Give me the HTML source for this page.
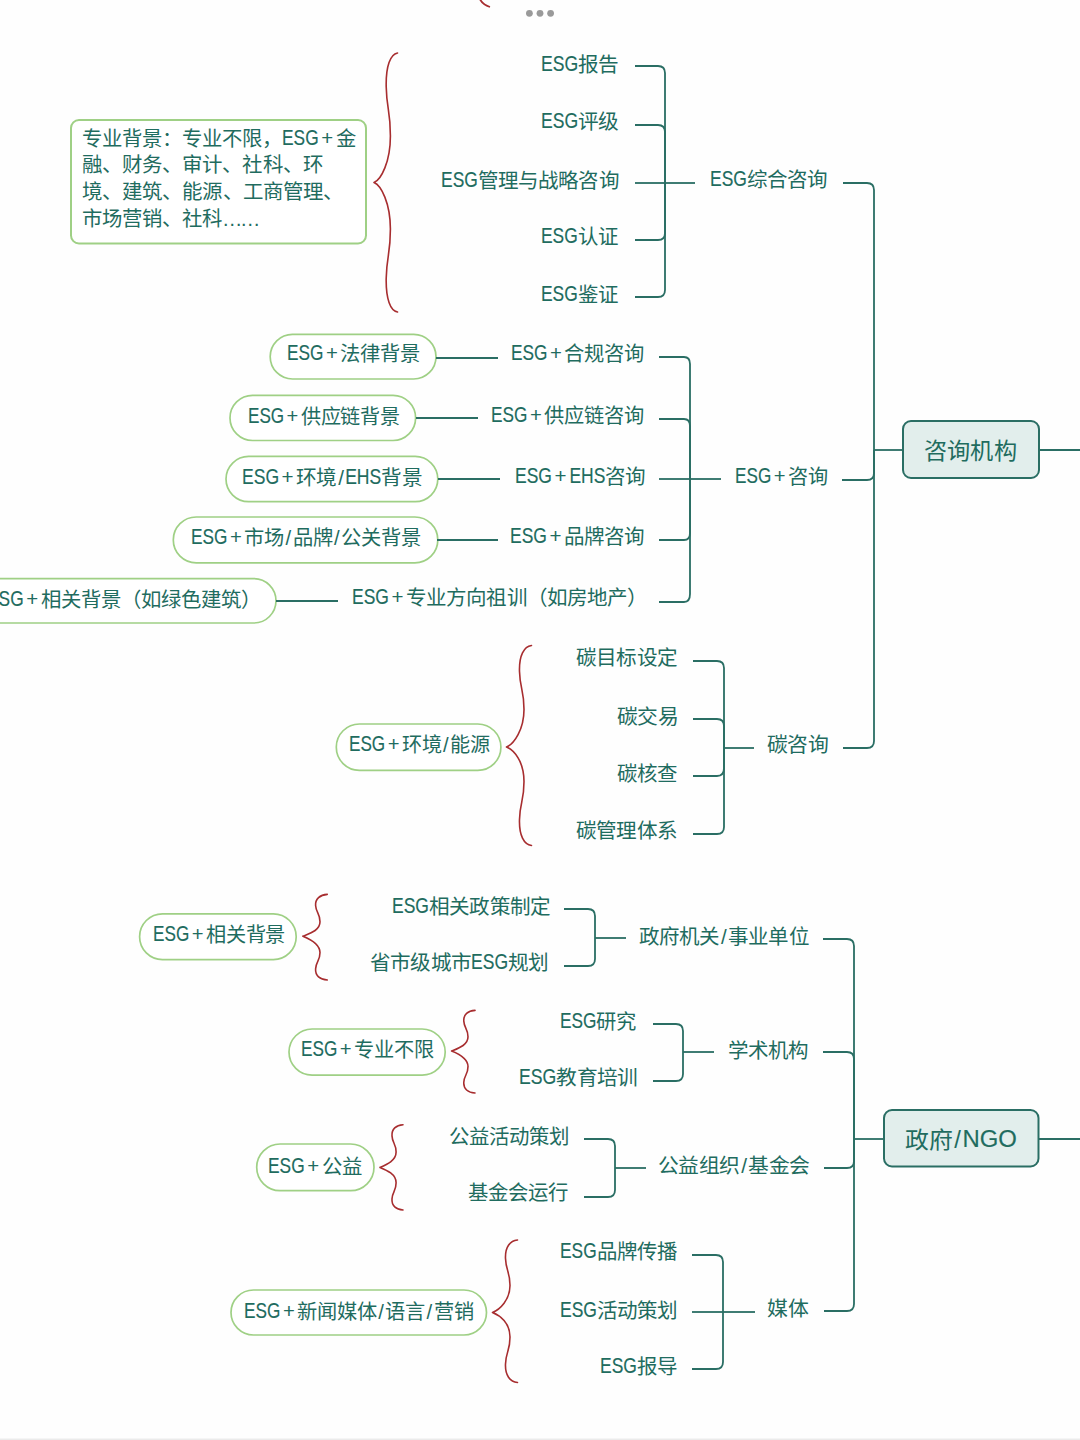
<!DOCTYPE html>
<html lang="zh-CN"><head><meta charset="utf-8"><style>
html,body{margin:0;padding:0;}
body{width:1080px;height:1440px;overflow:hidden;position:relative;background:#fefefe;font-family:"Liberation Sans",sans-serif;color:#1f6c5f;}
.t{position:absolute;white-space:nowrap;line-height:26px;height:26px;transform-origin:0 50%;}
.l{display:inline-block;transform-origin:0 50%;position:relative;top:-1px;-webkit-text-stroke:0.15px currentColor;}
.p{padding:0 2.5px;position:relative;top:-1px;}
.e{letter-spacing:-2.5px;}
.s{padding:0 1.5px;}
svg{position:absolute;left:0;top:0;}
</style></head><body>

<svg width="1080" height="1440" viewBox="0 0 1080 1440"><path d="M635 66H658Q665 66 665 73V183" fill="none" stroke="#2a6e64" stroke-width="1.8"/><path d="M635 125H658Q665 125 665 132V183" fill="none" stroke="#2a6e64" stroke-width="1.8"/><path d="M635 183H665" fill="none" stroke="#2a6e64" stroke-width="1.8"/><path d="M635 240H658Q665 240 665 233V183" fill="none" stroke="#2a6e64" stroke-width="1.8"/><path d="M635 297H658Q665 297 665 290V183" fill="none" stroke="#2a6e64" stroke-width="1.8"/><path d="M665 183H695" fill="none" stroke="#2a6e64" stroke-width="1.8"/><path d="M843 183H867Q874 183 874 190V450" fill="none" stroke="#2a6e64" stroke-width="1.8"/><rect x="270.2" y="334.3" width="165.8" height="44.7" rx="22.3" fill="#ffffff" stroke="#9fd085" stroke-width="1.7"/><rect x="230.0" y="395.3" width="185.6" height="45.2" rx="22.6" fill="#ffffff" stroke="#9fd085" stroke-width="1.7"/><rect x="226.0" y="456.4" width="211.8" height="45.3" rx="22.7" fill="#ffffff" stroke="#9fd085" stroke-width="1.7"/><rect x="173.3" y="517.0" width="264.5" height="45.8" rx="22.9" fill="#ffffff" stroke="#9fd085" stroke-width="1.7"/><rect x="-40.0" y="578.6" width="316.0" height="44.4" rx="22.2" fill="#ffffff" stroke="#9fd085" stroke-width="1.7"/><path d="M436 358H498" fill="none" stroke="#2a6e64" stroke-width="1.8"/><path d="M416 418H478" fill="none" stroke="#2a6e64" stroke-width="1.8"/><path d="M438 479H500" fill="none" stroke="#2a6e64" stroke-width="1.8"/><path d="M437 540H498" fill="none" stroke="#2a6e64" stroke-width="1.8"/><path d="M276 601H338" fill="none" stroke="#2a6e64" stroke-width="1.8"/><path d="M659 357H684Q690 357 690 364V479" fill="none" stroke="#2a6e64" stroke-width="1.8"/><path d="M659 419H684Q690 419 690 426V479" fill="none" stroke="#2a6e64" stroke-width="1.8"/><path d="M659 479H690" fill="none" stroke="#2a6e64" stroke-width="1.8"/><path d="M659 540H684Q690 540 690 533V479" fill="none" stroke="#2a6e64" stroke-width="1.8"/><path d="M659 602H684Q690 602 690 594V479" fill="none" stroke="#2a6e64" stroke-width="1.8"/><path d="M690 479H721" fill="none" stroke="#2a6e64" stroke-width="1.8"/><path d="M842 480H867Q874 480 874 473V450" fill="none" stroke="#2a6e64" stroke-width="1.8"/><path d="M693 661H717Q724 661 724 668V748" fill="none" stroke="#2a6e64" stroke-width="1.8"/><path d="M693 719H717Q724 719 724 726V748" fill="none" stroke="#2a6e64" stroke-width="1.8"/><path d="M693 776H717Q724 776 724 768V748" fill="none" stroke="#2a6e64" stroke-width="1.8"/><path d="M693 834H717Q724 834 724 827V748" fill="none" stroke="#2a6e64" stroke-width="1.8"/><path d="M724 748H754" fill="none" stroke="#2a6e64" stroke-width="1.8"/><path d="M843 748H867Q874 748 874 741V450" fill="none" stroke="#2a6e64" stroke-width="1.8"/><rect x="336.3" y="724.0" width="164.6" height="46.3" rx="23.1" fill="#ffffff" stroke="#9fd085" stroke-width="1.7"/><path d="M531.5 645.5C524.0 646.5 519.0 655.5 519.5 671.5C520.0 689.5 524.0 689.5 524.0 709.5C524.0 729.5 514.0 744.0 506.5 747.0M531.5 845.5C524.0 844.5 519.0 835.5 519.5 819.5C520.0 801.5 524.0 801.5 524.0 781.5C524.0 761.5 514.0 750.0 506.5 747.0" fill="none" stroke="#a72d2f" stroke-width="1.6" stroke-linecap="round"/><path d="M874 450H902" fill="none" stroke="#2a6e64" stroke-width="1.8"/><rect x="903" y="421" width="136" height="57" rx="8" fill="#e2eeec" stroke="#2a6e64" stroke-width="2"/><path d="M1039 450H1080" fill="none" stroke="#2a6e64" stroke-width="1.8"/><path d="M397.5 53.0C390.4 54.3 385.8 66.0 386.2 86.7C386.7 110.0 390.4 110.0 390.4 135.9C390.4 161.8 381.1 179.7 374.0 182.5M397.5 312.0C390.4 310.7 385.8 299.1 386.2 278.3C386.7 255.0 390.4 255.0 390.4 229.1C390.4 203.2 381.1 185.3 374.0 182.5" fill="none" stroke="#a72d2f" stroke-width="1.6" stroke-linecap="round"/><rect x="71" y="120" width="295" height="123.5" rx="8" fill="#ffffff" stroke="#9fd085" stroke-width="2"/><rect x="139.6" y="913.8" width="156.6" height="45.8" rx="22.9" fill="#ffffff" stroke="#9fd085" stroke-width="1.7"/><path d="M327.3 894.4C320.0 894.8 315.1 898.7 315.6 905.5C316.1 913.2 320.0 913.2 320.0 921.8C320.0 930.4 310.2 933.3 302.9 936.2M327.3 980.0C320.0 979.6 315.1 975.7 315.6 968.9C316.1 961.2 320.0 961.2 320.0 952.6C320.0 944.0 310.2 939.1 302.9 936.2" fill="none" stroke="#a72d2f" stroke-width="1.6" stroke-linecap="round"/><path d="M564 909H588Q595 909 595 916V938" fill="none" stroke="#2a6e64" stroke-width="1.8"/><path d="M564 966H588Q595 966 595 959V938" fill="none" stroke="#2a6e64" stroke-width="1.8"/><path d="M595 938H626" fill="none" stroke="#2a6e64" stroke-width="1.8"/><path d="M823 939H847Q854 939 854 946V1139" fill="none" stroke="#2a6e64" stroke-width="1.8"/><rect x="289.0" y="1029.0" width="156.2" height="46.2" rx="23.1" fill="#ffffff" stroke="#9fd085" stroke-width="1.7"/><path d="M475.0 1010.4C468.0 1010.8 463.3 1014.5 463.8 1021.1C464.2 1028.6 468.0 1028.6 468.0 1036.8C468.0 1045.1 458.6 1048.2 451.6 1051.0M475.0 1093.0C468.0 1092.6 463.3 1088.9 463.8 1082.3C464.2 1074.8 468.0 1074.8 468.0 1066.6C468.0 1058.3 458.6 1053.8 451.6 1051.0" fill="none" stroke="#a72d2f" stroke-width="1.6" stroke-linecap="round"/><path d="M653 1024H676Q683 1024 683 1031V1052" fill="none" stroke="#2a6e64" stroke-width="1.8"/><path d="M653 1081H676Q683 1081 683 1074V1052" fill="none" stroke="#2a6e64" stroke-width="1.8"/><path d="M683 1052H714" fill="none" stroke="#2a6e64" stroke-width="1.8"/><path d="M823 1052H847Q854 1052 854 1059V1139" fill="none" stroke="#2a6e64" stroke-width="1.8"/><rect x="256.7" y="1144.0" width="117.3" height="46.7" rx="23.4" fill="#ffffff" stroke="#9fd085" stroke-width="1.7"/><path d="M403.0 1124.8C396.1 1125.2 391.5 1129.1 392.0 1135.9C392.4 1143.5 396.1 1143.5 396.1 1152.1C396.1 1160.6 386.9 1164.6 380.0 1167.4M403.0 1210.0C396.1 1209.6 391.5 1205.7 392.0 1198.9C392.4 1191.3 396.1 1191.3 396.1 1182.7C396.1 1174.2 386.9 1170.2 380.0 1167.4" fill="none" stroke="#a72d2f" stroke-width="1.6" stroke-linecap="round"/><path d="M584 1139H608Q615 1139 615 1146V1168" fill="none" stroke="#2a6e64" stroke-width="1.8"/><path d="M584 1197H608Q615 1197 615 1190V1168" fill="none" stroke="#2a6e64" stroke-width="1.8"/><path d="M615 1168H646" fill="none" stroke="#2a6e64" stroke-width="1.8"/><path d="M824 1168H847Q854 1168 854 1161V1139" fill="none" stroke="#2a6e64" stroke-width="1.8"/><rect x="231.0" y="1290.0" width="255.5" height="45.0" rx="22.5" fill="#ffffff" stroke="#9fd085" stroke-width="1.7"/><path d="M517.5 1240.0C510.0 1240.7 505.0 1247.1 505.5 1258.5C506.0 1271.3 510.0 1271.3 510.0 1285.6C510.0 1299.8 500.0 1309.5 492.5 1312.5M517.5 1382.5C510.0 1381.8 505.0 1375.4 505.5 1364.0C506.0 1351.2 510.0 1351.2 510.0 1336.9C510.0 1322.7 500.0 1315.5 492.5 1312.5" fill="none" stroke="#a72d2f" stroke-width="1.6" stroke-linecap="round"/><path d="M692 1255H716Q723 1255 723 1262V1312" fill="none" stroke="#2a6e64" stroke-width="1.8"/><path d="M692 1312H723" fill="none" stroke="#2a6e64" stroke-width="1.8"/><path d="M692 1369H716Q723 1369 723 1362V1312" fill="none" stroke="#2a6e64" stroke-width="1.8"/><path d="M723 1312H755" fill="none" stroke="#2a6e64" stroke-width="1.8"/><path d="M824 1311H847Q854 1311 854 1304V1139" fill="none" stroke="#2a6e64" stroke-width="1.8"/><path d="M854 1139H883" fill="none" stroke="#2a6e64" stroke-width="1.8"/><rect x="884" y="1110" width="154.5" height="56.5" rx="8" fill="#e2eeec" stroke="#2a6e64" stroke-width="2"/><path d="M1039 1139H1080" fill="none" stroke="#2a6e64" stroke-width="1.8"/><circle cx="529.4" cy="13.3" r="3.4" fill="#9a9a9a"/><circle cx="540.0" cy="13.3" r="3.4" fill="#9a9a9a"/><circle cx="550.6" cy="13.3" r="3.4" fill="#9a9a9a"/><path d="M478.5 -4Q481 4 490 7" fill="none" stroke="#a72d2f" stroke-width="1.8"/><rect x="0" y="1438.5" width="1080" height="1.5" fill="#ebebeb"/></svg>
<div class="t" style="left:541.0px;top:52.0px;font-size:20.40px;transform:scaleX(1.0135);"><span class="l" style="font-size:21.42px;transform:scaleX(0.810);margin-right:-8.59px">ESG</span>报告</div>
<div class="t" style="left:541.0px;top:108.5px;font-size:20.40px;transform:scaleX(1.0135);"><span class="l" style="font-size:21.42px;transform:scaleX(0.810);margin-right:-8.59px">ESG</span>评级</div>
<div class="t" style="left:441.0px;top:168.0px;font-size:20.40px;transform:scaleX(1.0057);"><span class="l" style="font-size:21.42px;transform:scaleX(0.810);margin-right:-8.59px">ESG</span>管理与战略咨询</div>
<div class="t" style="left:541.4px;top:224.0px;font-size:20.40px;transform:scaleX(1.0040);"><span class="l" style="font-size:21.42px;transform:scaleX(0.810);margin-right:-8.59px">ESG</span>认证</div>
<div class="t" style="left:541.4px;top:282.0px;font-size:20.40px;transform:scaleX(1.0040);"><span class="l" style="font-size:21.42px;transform:scaleX(0.810);margin-right:-8.59px">ESG</span>鉴证</div>
<div class="t" style="left:710.4px;top:167.0px;font-size:20.40px;transform:scaleX(1.0070);"><span class="l" style="font-size:21.42px;transform:scaleX(0.810);margin-right:-8.59px">ESG</span>综合咨询</div>
<div class="t" style="left:287.0px;top:341.4px;font-size:20.40px;transform:scaleX(0.9962);"><span class="l" style="font-size:21.42px;transform:scaleX(0.810);margin-right:-8.59px">ESG</span><span class="p">+</span>法律背景</div>
<div class="t" style="left:248.0px;top:403.5px;font-size:20.40px;transform:scaleX(0.9868);"><span class="l" style="font-size:21.42px;transform:scaleX(0.810);margin-right:-8.59px">ESG</span><span class="p">+</span>供应链背景</div>
<div class="t" style="left:242.0px;top:464.7px;font-size:20.40px;transform:scaleX(1.0114);"><span class="l" style="font-size:21.42px;transform:scaleX(0.810);margin-right:-8.59px">ESG</span><span class="p">+</span>环境<span class="s">/</span><span class="l" style="font-size:21.42px;transform:scaleX(0.810);margin-right:-8.37px">EHS</span>背景</div>
<div class="t" style="left:191.0px;top:525.0px;font-size:20.40px;transform:scaleX(0.9943);"><span class="l" style="font-size:21.42px;transform:scaleX(0.810);margin-right:-8.59px">ESG</span><span class="p">+</span>市场<span class="s">/</span>品牌<span class="s">/</span>公关背景</div>
<div class="t" style="left:-13.0px;top:587.0px;font-size:20.40px;"><span class="l" style="font-size:21.42px;transform:scaleX(0.810);margin-right:-8.59px">ESG</span><span class="p">+</span>相关背景（如绿色建筑）</div>
<div class="t" style="left:511.2px;top:341.0px;font-size:20.40px;transform:scaleX(0.9954);"><span class="l" style="font-size:21.42px;transform:scaleX(0.810);margin-right:-8.59px">ESG</span><span class="p">+</span>合规咨询</div>
<div class="t" style="left:491.0px;top:403.0px;font-size:20.40px;transform:scaleX(0.9934);"><span class="l" style="font-size:21.42px;transform:scaleX(0.810);margin-right:-8.59px">ESG</span><span class="p">+</span>供应链咨询</div>
<div class="t" style="left:515.0px;top:464.0px;font-size:20.40px;transform:scaleX(1.0079);"><span class="l" style="font-size:21.42px;transform:scaleX(0.810);margin-right:-8.59px">ESG</span><span class="p">+</span><span class="l" style="font-size:21.42px;transform:scaleX(0.810);margin-right:-8.37px">EHS</span>咨询</div>
<div class="t" style="left:510.2px;top:523.7px;font-size:20.40px;transform:scaleX(1.0069);"><span class="l" style="font-size:21.42px;transform:scaleX(0.810);margin-right:-8.59px">ESG</span><span class="p">+</span>品牌咨询</div>
<div class="t" style="left:351.6px;top:585.4px;font-size:20.40px;transform:scaleX(1.0068);"><span class="l" style="font-size:21.42px;transform:scaleX(0.810);margin-right:-8.59px">ESG</span><span class="p">+</span>专业方向祖训（如房地产）</div>
<div class="t" style="left:735.0px;top:464.0px;font-size:20.40px;transform:scaleX(0.9891);"><span class="l" style="font-size:21.42px;transform:scaleX(0.810);margin-right:-8.59px">ESG</span><span class="p">+</span>咨询</div>
<div class="t" style="left:576.0px;top:644.7px;font-size:20.40px;transform:scaleX(1.0102);">碳目标设定</div>
<div class="t" style="left:616.6px;top:704.0px;font-size:20.40px;transform:scaleX(1.0211);">碳交易</div>
<div class="t" style="left:616.6px;top:760.6px;font-size:20.40px;transform:scaleX(1.0034);">碳核查</div>
<div class="t" style="left:576.0px;top:818.0px;font-size:20.40px;transform:scaleX(1.0102);">碳管理体系</div>
<div class="t" style="left:766.8px;top:731.7px;font-size:20.40px;transform:scaleX(1.0224);">碳咨询</div>
<div class="t" style="left:349.2px;top:731.8px;font-size:20.40px;transform:scaleX(0.9887);"><span class="l" style="font-size:21.42px;transform:scaleX(0.810);margin-right:-8.59px">ESG</span><span class="p">+</span>环境<span class="s">/</span>能源</div>
<div class="t" style="left:152.6px;top:921.8px;font-size:20.40px;transform:scaleX(0.9902);"><span class="l" style="font-size:21.42px;transform:scaleX(0.810);margin-right:-8.59px">ESG</span><span class="p">+</span>相关背景</div>
<div class="t" style="left:391.8px;top:893.5px;font-size:20.40px;transform:scaleX(1.0097);"><span class="l" style="font-size:21.42px;transform:scaleX(0.810);margin-right:-8.59px">ESG</span>相关政策制定</div>
<div class="t" style="left:370.2px;top:950.4px;font-size:20.40px;transform:scaleX(1.0109);">省市级城市<span class="l" style="font-size:21.42px;transform:scaleX(0.810);margin-right:-8.59px">ESG</span>规划</div>
<div class="t" style="left:639.0px;top:923.5px;font-size:20.40px;transform:scaleX(1.0060);">政府机关<span class="s">/</span>事业单位</div>
<div class="t" style="left:301.0px;top:1037.3px;font-size:20.40px;transform:scaleX(0.9924);"><span class="l" style="font-size:21.42px;transform:scaleX(0.810);margin-right:-8.59px">ESG</span><span class="p">+</span>专业不限</div>
<div class="t" style="left:560.0px;top:1008.7px;font-size:20.40px;transform:scaleX(0.9961);"><span class="l" style="font-size:21.42px;transform:scaleX(0.810);margin-right:-8.59px">ESG</span>研究</div>
<div class="t" style="left:519.4px;top:1065.0px;font-size:20.40px;transform:scaleX(1.0175);"><span class="l" style="font-size:21.42px;transform:scaleX(0.810);margin-right:-8.59px">ESG</span>教育培训</div>
<div class="t" style="left:727.6px;top:1038.0px;font-size:20.40px;transform:scaleX(1.0051);">学术机构</div>
<div class="t" style="left:268.2px;top:1153.6px;font-size:20.40px;"><span class="l" style="font-size:21.42px;transform:scaleX(0.810);margin-right:-8.59px">ESG</span><span class="p">+</span>公益</div>
<div class="t" style="left:448.8px;top:1124.0px;font-size:20.40px;transform:scaleX(1.0034);">公益活动策划</div>
<div class="t" style="left:468.2px;top:1180.0px;font-size:20.40px;">基金会运行</div>
<div class="t" style="left:658.0px;top:1152.7px;font-size:20.40px;transform:scaleX(1.0205);">公益组织<span class="s">/</span>基金会</div>
<div class="t" style="left:244.0px;top:1299.0px;font-size:20.40px;transform:scaleX(0.9934);"><span class="l" style="font-size:21.42px;transform:scaleX(0.810);margin-right:-8.59px">ESG</span><span class="p">+</span>新闻媒体<span class="s">/</span>语言<span class="s">/</span>营销</div>
<div class="t" style="left:560.0px;top:1239.0px;font-size:20.40px;"><span class="l" style="font-size:21.42px;transform:scaleX(0.810);margin-right:-8.59px">ESG</span>品牌传播</div>
<div class="t" style="left:560.0px;top:1298.0px;font-size:20.40px;transform:scaleX(1.0088);"><span class="l" style="font-size:21.42px;transform:scaleX(0.810);margin-right:-8.59px">ESG</span>活动策划</div>
<div class="t" style="left:600.0px;top:1354.0px;font-size:20.40px;transform:scaleX(1.0067);"><span class="l" style="font-size:21.42px;transform:scaleX(0.810);margin-right:-8.59px">ESG</span>报导</div>
<div class="t" style="left:767.0px;top:1296.2px;font-size:20.40px;transform:scaleX(1.0256);">媒体</div>
<div class="t" style="left:924.0px;top:437.5px;font-size:23.00px;transform:scaleX(1.0078);">咨询机构</div>
<div class="t" style="left:905.0px;top:1126.5px;font-size:23.00px;transform:scaleX(1.0377);">政府<span class="s">/</span><span class="l" style="font-size:23.00px;transform:scaleX(1.000);margin-right:-0.00px">NGO</span></div>
<div class="t" style="left:82.0px;top:126.3px;font-size:20.40px;">专业背景：专业不限，<span class="l" style="font-size:21.42px;transform:scaleX(0.810);margin-right:-8.59px">ESG</span><span class="p">+</span>金</div>
<div class="t" style="left:82.0px;top:152.0px;font-size:20.40px;transform:scaleX(1.0029);">融、财务、审计、社科、环</div>
<div class="t" style="left:82.0px;top:178.5px;font-size:20.40px;transform:scaleX(1.0041);">境、建筑、能源、工商管理、</div>
<div class="t" style="left:82.0px;top:205.6px;font-size:20.40px;">市场营销、社科<span class="e">……</span></div>
</body></html>
